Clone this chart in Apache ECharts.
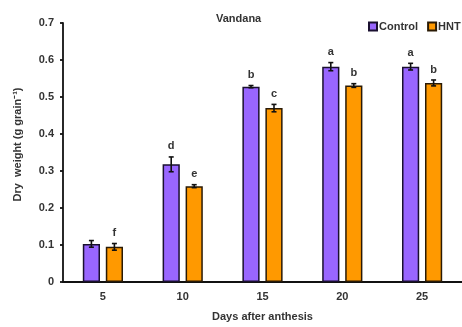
<!DOCTYPE html>
<html>
<head>
<meta charset="utf-8">
<script src="https://cdn.jsdelivr.net/npm/echarts@6/dist/echarts.min.js"></script>
<style>
  html, body { margin: 0; padding: 0; background: #fff; }
  #chart { width: 462px; height: 327px; }
</style>
</head>
<body>
<div id="chart"></div>
<script>
// Grain dry weight by days after anthesis, Vandana
var categories = ['5', '10', '15', '20', '25'];
var controlValues = [0.103, 0.318, 0.528, 0.582, 0.582];
var hntValues = [0.095, 0.259, 0.470, 0.531, 0.538];
var controlErr = [0.009, 0.020, 0.003, 0.011, 0.009];
var hntErr = [0.009, 0.004, 0.010, 0.005, 0.008];
var controlLetters = ['', 'd', 'b', 'a', 'a'];
var hntLetters = ['f', 'e', 'c', 'b', 'b'];
var yTicks = [0, 0.1, 0.2, 0.3, 0.4, 0.5, 0.6, 0.7];

var FONT = '"Liberation Sans", Arial, sans-serif';
var BAR_W = 17.2;
var BAR_GAP = 5.8;
var OFFSET = (BAR_W + BAR_GAP) / 2;

function errorSeries(values, errs, letters, shift) {
  var data = values.map(function (v, i) { return [i, v, errs[i], letters[i]]; });
  return {
    type: 'custom',
    silent: true,
    z: 10,
    data: data,
    renderItem: function (params, api) {
      var i = api.value(0), v = api.value(1), e = api.value(2);
      var letter = data[params.dataIndex][3];
      var top = api.coord([i, v + e]);
      var bot = api.coord([i, v - e]);
      var x = top[0] + shift;
      var cap = 2.5;
      var style = { stroke: '#111', lineWidth: 1.6 };
      var children = [
        { type: 'line', shape: { x1: x, y1: top[1], x2: x, y2: bot[1] }, style: style },
        { type: 'line', shape: { x1: x - cap, y1: top[1], x2: x + cap, y2: top[1] }, style: style },
        { type: 'line', shape: { x1: x - cap, y1: bot[1], x2: x + cap, y2: bot[1] }, style: style }
      ];
      if (letter) {
        children.push({
          type: 'text',
          style: {
            text: letter, x: x, y: top[1] - 5,
            textAlign: 'center', textVerticalAlign: 'bottom',
            font: 'bold 11px ' + FONT, fill: '#333'
          }
        });
      }
      return { type: 'group', children: children };
    }
  };
}

var chart = echarts.init(document.getElementById('chart'), null, { renderer: 'canvas' });
chart.setOption({
  animation: false,
  backgroundColor: '#fff',
  title: {
    text: 'Vandana',
    left: 211, top: 8,
    textStyle: { fontFamily: FONT, fontSize: 11, fontWeight: 'bold', color: '#333' }
  },
  legend: {
    orient: 'horizontal',
    left: 363, top: 16, width: 200,
    itemWidth: 8, itemHeight: 8, itemGap: 9,
    icon: 'rect',
    textStyle: { fontFamily: FONT, fontSize: 11, fontWeight: 'bold', color: '#333', padding: [0, 0, 0, -3] },
    data: ['Control', 'HNT']
  },
  grid: { left: 63, right: 0, top: 23, bottom: 36, containLabel: false },
  xAxis: {
    type: 'category',
    data: categories,
    name: 'Days after anthesis',
    nameLocation: 'middle',
    nameGap: 29,
    nameTextStyle: { fontFamily: FONT, fontSize: 11, fontWeight: 'bold', color: '#333' },
    axisLine: { lineStyle: { color: '#111', width: 1.8 } },
    axisTick: { show: false },
    axisLabel: { fontFamily: FONT, fontSize: 11, fontWeight: 'bold', color: '#333', margin: 9 }
  },
  yAxis: {
    type: 'value',
    min: yTicks[0], max: yTicks[yTicks.length - 1], interval: 0.1,
    name: 'Dry  weight (g grain\u207B\u00B9)',
    nameLocation: 'middle',
    nameGap: 40,
    nameTextStyle: {
      fontFamily: FONT, fontSize: 11, fontWeight: 'bold', color: '#333',
      padding: [0, 0, 0, 16]
    },
    splitLine: { show: false },
    axisLine: { show: true, lineStyle: { color: '#111', width: 1.8 } },
    axisTick: { show: true, length: 3, lineStyle: { color: '#111', width: 1.8 } },
    axisLabel: {
      fontFamily: FONT, fontSize: 11, fontWeight: 'bold', color: '#333', margin: 9,
      formatter: function (v) { return v === 0 ? '0' : v.toFixed(1); }
    }
  },
  series: [
    {
      name: 'Control', type: 'bar', data: controlValues,
      barWidth: BAR_W, barGap: (BAR_GAP / BAR_W * 100).toFixed(1) + '%',
      itemStyle: { color: '#9966ff', borderColor: '#1a1030', borderWidth: 1.5 }
    },
    {
      name: 'HNT', type: 'bar', data: hntValues,
      barWidth: BAR_W,
      itemStyle: { color: '#ff9900', borderColor: '#2a1a05', borderWidth: 1.5 }
    },
    errorSeries(controlValues, controlErr, controlLetters, -OFFSET),
    errorSeries(hntValues, hntErr, hntLetters, OFFSET)
  ]
});
</script>
</body>
</html>
